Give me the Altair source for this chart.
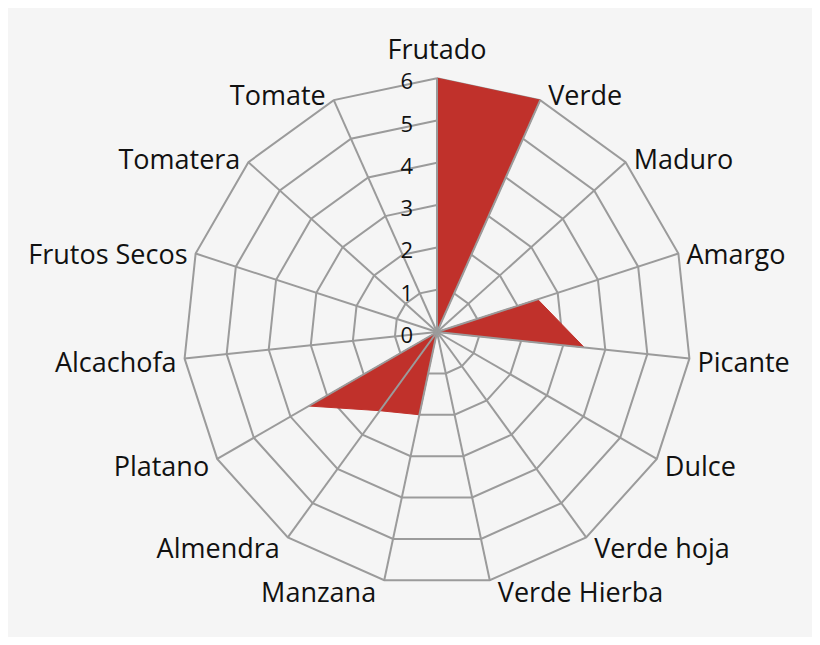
import altair as alt
import pandas as pd

# ---- data ----
categories = ["Frutado", "Verde", "Maduro", "Amargo", "Picante", "Dulce",
              "Verde hoja", "Verde Hierba", "Manzana", "Almendra", "Platano",
              "Alcachofa", "Frutos Secos", "Tomatera", "Tomate"]
values = [6, 6, 0, 2.5, 3.5, 0, 0, 0, 2, 2.3, 3.5, 0, 0, 0, 0]
tick_values = [0, 1, 2, 3, 4, 5, 6]
ring_levels = [1, 2, 3, 4, 5, 6]
max_value = 6

N = len(categories)

# ---- layout ----
W, H = 804, 629
PX = 42.3          # pixels per unit
CX, CY = 429, 324  # centre in chart coords
xdom = [-CX / PX, (W - CX) / PX]
ydom = [-(H - CY) / PX, CY / PX]

ANG = f"datum.idx * 2 * PI / {N}"

poly_df = pd.DataFrame({
    "idx": list(range(N)) + [N],
    "cat": categories + [categories[0]],
    "value": values + [values[0]],
})

ring_rows = []
for lv in ring_levels:
    for i in range(N + 1):
        ring_rows.append({"level": lv, "idx": i % N, "ord": i, "value": lv})
ring_df = pd.DataFrame(ring_rows)

spoke_rows = []
for i in range(N):
    spoke_rows.append({"idx": i, "end": 0, "value": 0})
    spoke_rows.append({"idx": i, "end": 1, "value": max_value})
spoke_df = pd.DataFrame(spoke_rows)

label_df = pd.DataFrame({"idx": list(range(N)), "cat": categories})
tick_df = pd.DataFrame({"t": tick_values})

xs = alt.Scale(domain=xdom, nice=False, zero=False)
ys = alt.Scale(domain=ydom, nice=False, zero=False)

GRID = "#9b9b9b"

rings = alt.Chart(ring_df).transform_calculate(
    a=ANG
).transform_calculate(
    x="datum.value * sin(datum.a)", y="datum.value * cos(datum.a)"
).mark_line(color=GRID, strokeWidth=2).encode(
    x=alt.X("x:Q", scale=xs, axis=None),
    y=alt.Y("y:Q", scale=ys, axis=None),
    detail="level:N",
    order="ord:Q",
)

spokes = alt.Chart(spoke_df).transform_calculate(
    a=ANG
).transform_calculate(
    x="datum.value * sin(datum.a)", y="datum.value * cos(datum.a)"
).mark_line(color=GRID, strokeWidth=2).encode(
    x=alt.X("x:Q", scale=xs, axis=None),
    y=alt.Y("y:Q", scale=ys, axis=None),
    detail="idx:N",
    order="end:Q",
)

poly = alt.Chart(poly_df).transform_calculate(
    a=ANG
).transform_calculate(
    x="datum.value * sin(datum.a)", y="datum.value * cos(datum.a)"
).mark_line(fill="#C0312B", stroke="#C0312B", strokeWidth=1, fillOpacity=1).encode(
    x=alt.X("x:Q", scale=xs, axis=None),
    y=alt.Y("y:Q", scale=ys, axis=None),
    order="idx:Q",
)

FONT = "Open Sans"
FS = 27

lab_base = alt.Chart(label_df).transform_calculate(
    a=ANG
).transform_calculate(
    s="sin(datum.a)", c="cos(datum.a)"
).transform_calculate(
    lx=f"{max_value} * datum.s + (datum.s > 0.01 ? 0.19 : (datum.s < -0.01 ? -0.19 : 0))",
    ly=f"datum.s > -0.01 && datum.s < 0.01 ? {max_value} + 27 / {PX} : {max_value} * datum.c - (5 - 9 * datum.c) / {PX}",
)

def lab_layer(filt, align):
    return lab_base.transform_filter(filt).mark_text(
        align=align, baseline="middle", font=FONT, fontSize=FS, color="#111111"
    ).encode(
        x=alt.X("lx:Q", scale=xs, axis=None),
        y=alt.Y("ly:Q", scale=ys, axis=None),
        text="cat:N",
    )

labels_left = lab_layer("datum.s > 0.01", "left")
labels_right = lab_layer("datum.s < -0.01", "right")
labels_center = lab_layer("datum.s >= -0.01 && datum.s <= 0.01", "center")

ticks = alt.Chart(tick_df).transform_calculate(
    tx=f"-24 / {PX}", ty="datum.t"
).mark_text(
    align="right", baseline="middle", font=FONT, fontSize=22, color="#111111", dy=4
).encode(
    x=alt.X("tx:Q", scale=xs, axis=None),
    y=alt.Y("ty:Q", scale=ys, axis=None),
    text="t:Q",
)

chart = alt.layer(
    rings, poly, spokes, labels_left, labels_right, labels_center, ticks
).properties(
    width=W, height=H, padding=0,
    autosize=alt.AutoSizeParams(type="none"),
    background="#f5f5f5",
).configure_view(stroke=None)

chart.save("out.html", embed_options={"renderer": "svg", "actions": False})
